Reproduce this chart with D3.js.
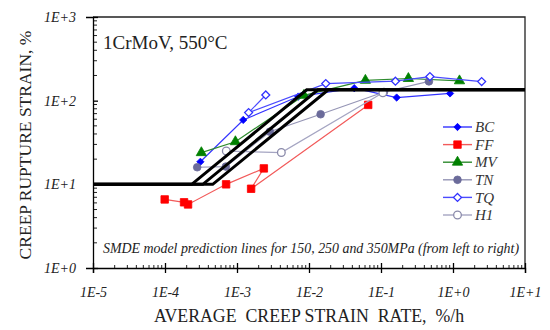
<!DOCTYPE html>
<meta charset="utf-8">
<script src="https://d3js.org/d3.v7.min.js"></script>
<style>
  body { margin: 0; background: #fff; }
  text { font-family: "Liberation Serif", serif; }
</style>
<div id="chart"></div>
<script>
// ---- data ----
const seriesNames = ["BC", "FF", "MV", "TN", "TQ", "H1"];

const bcRate   = [3.1e-4, 1.22e-3, 7.1e-3, 0.0425, 0.165, 0.91];
const bcStrain = [18.6, 58.8, 112, 141, 109, 122];

const ffRate   = [9.9e-5, 1.84e-4, 2.09e-4, 7.06e-4, 2.36e-3, 1.57e-3, 0.0664];
const ffStrain = [6.6, 6.1, 5.75, 10, 15.5, 8.85, 89];

const mvRate   = [3.2e-4, 9.5e-4, 8.5e-3, 0.0607, 0.24, 1.23];
const mvStrain = [23.9, 32.3, 115.6, 175, 184, 172.6];

const tnRate   = [2.8e-4, 7.0e-4, 2.86e-3, 0.0145, 0.11, 0.463];
const tnStrain = [16.0, 16.3, 42.6, 68.8, 127, 170];

const tqRate   = [2.51e-3, 1.45e-3, 0.0171, 0.1585, 0.478, 2.5];
const tqStrain = [117, 72, 160, 171, 194, 169];

const h1Rate   = [7.1e-4, 4.13e-3, 0.106];
const h1Strain = [25.0, 24.0, 124];

// SMDE model lines for 150, 250, 350 MPa
const modelStress = [150, 250, 350];
const modelLowKnee  = [2.35e-4, 3.35e-4, 4.6e-4];   // rate where line leaves 10 %
const modelHighKnee = [9.3e-3, 1.33e-2, 1.85e-2];   // rate where line reaches plateau
const modelLowStrain = 10, modelHighStrain = 135;

const xTicks = [1e-5, 1e-4, 1e-3, 1e-2, 1e-1, 1e0, 1e1];
const xTickLabels = ["1E-5", "1E-4", "1E-3", "1E-2", "1E-1", "1E+0", "1E+1"];
const yTicks = [1, 10, 100, 1000];
const yTickLabels = ["1E+0", "1E+1", "1E+2", "1E+3"];

// ---- styles ----
const style = {
  BC: {color: "#0000ff", line: "#3333ff", shape: d3.symbolDiamond2, size: 34, fill: true},
  FF: {color: "#ff0000", line: "#f25a5a", shape: d3.symbolSquare, size: 56, fill: true},
  MV: {color: "#008000", line: "#2e8b2e", shape: d3.symbolTriangle, size: 46, fill: true},
  TN: {color: "#6b6b9a", line: "#9595b5", shape: d3.symbolCircle, size: 46, fill: true},
  TQ: {color: "#3030ff", line: "#4a4aff", shape: d3.symbolDiamond2, size: 40, fill: false},
  H1: {color: "#8a8aaa", line: "#a5a5c2", shape: d3.symbolCircle, size: 46, fill: false}
};

const data = {
  BC: bcRate.map((r, i) => ({rate: r, strain: bcStrain[i]})),
  FF: ffRate.map((r, i) => ({rate: r, strain: ffStrain[i]})),
  MV: mvRate.map((r, i) => ({rate: r, strain: mvStrain[i]})),
  TN: tnRate.map((r, i) => ({rate: r, strain: tnStrain[i]})),
  TQ: tqRate.map((r, i) => ({rate: r, strain: tqStrain[i]})),
  H1: h1Rate.map((r, i) => ({rate: r, strain: h1Strain[i]}))
};

// ---- layout ----
const W = 550, H = 330;
const margin = {top: 17, right: 25, bottom: 62, left: 93};
const width = W - margin.left - margin.right;
const height = H - margin.top - margin.bottom;

const svg = d3.select("#chart").append("svg")
    .attr("width", W).attr("height", H);
const g = svg.append("g")
    .attr("transform", "translate(" + margin.left + "," + margin.top + ")");

const x = d3.scaleLog().domain([1e-5, 10]).range([0, width]);
const y = d3.scaleLog().domain([1, 1000]).range([height, 0]);

// frame (top + right)
g.append("path")
    .attr("d", "M0,0H" + width + "V" + height)
    .attr("fill", "none").attr("stroke", "#222").attr("stroke-width", 1.3);

// minor ticks
const xMinor = [], yMinor = [];
for (let e = -5; e < 1; e++) for (let m = 2; m < 10; m++) xMinor.push(m * Math.pow(10, e));
for (let e = 0; e < 3; e++) for (let m = 2; m < 10; m++) yMinor.push(m * Math.pow(10, e));

g.append("g").selectAll("line").data(xMinor).enter().append("line")
    .attr("x1", d => x(d)).attr("x2", d => x(d))
    .attr("y1", height).attr("y2", height - 3)
    .attr("stroke", "#222").attr("stroke-width", 1);
g.append("g").selectAll("line").data(yMinor).enter().append("line")
    .attr("y1", d => y(d)).attr("y2", d => y(d))
    .attr("x1", 0).attr("x2", 4)
    .attr("stroke", "#222").attr("stroke-width", 1);

// axes
const xAxis = g.append("g")
    .attr("transform", "translate(0," + height + ")")
    .call(d3.axisBottom(x).tickValues(xTicks)
      .tickFormat((d, i) => xTickLabels[i]).tickSize(5).tickPadding(14));
xAxis.selectAll(".tick line").attr("y1", -5).attr("stroke-width", 1.3);
xAxis.select(".domain").attr("stroke-width", 1.3);
xAxis.selectAll("text").attr("font-size", 14).attr("font-style", "italic")
    .attr("fill", "#222");

const yAxis = g.append("g")
    .call(d3.axisLeft(y).tickValues(yTicks)
      .tickFormat((d, i) => yTickLabels[i]).tickSize(7).tickPadding(10));
yAxis.selectAll(".tick line").attr("x2", 5).attr("stroke-width", 1.3);
yAxis.select(".domain").attr("stroke-width", 1.3);
yAxis.selectAll("text").attr("font-size", 14).attr("font-style", "italic")
    .attr("fill", "#222");

// series
const line = d3.line().x(d => x(d.rate)).y(d => y(d.strain));
seriesNames.forEach(name => {
  const s = style[name];
  g.append("path").datum(data[name])
      .attr("d", line).attr("fill", "none")
      .attr("stroke", s.line).attr("stroke-width", 1.2);
  g.append("g").selectAll("path").data(data[name]).enter().append("path")
      .attr("transform", d => "translate(" + x(d.rate) + "," + y(d.strain) + ")")
      .attr("d", d3.symbol().type(s.shape).size(s.size))
      .attr("fill", s.fill ? s.color : "#fff")
      .attr("stroke", s.color).attr("stroke-width", s.fill ? 0.8 : 1.3);
});

// model lines
modelStress.forEach((st, i) => {
  const pts = [
    {rate: 1e-5, strain: modelLowStrain},
    {rate: modelLowKnee[i], strain: modelLowStrain},
    {rate: modelHighKnee[i], strain: modelHighStrain},
    {rate: 10, strain: modelHighStrain}
  ];
  g.append("path").datum(pts).attr("d", line)
      .attr("fill", "none").attr("stroke", "#000").attr("stroke-width", 3);
});

// legend
const legend = g.append("g").attr("transform", "translate(" + (443 - margin.left) + ",0)");
seriesNames.forEach((name, i) => {
  const s = style[name];
  const ly = 110 + i * 17.6;
  legend.append("line").attr("x1", 0).attr("x2", 29).attr("y1", ly).attr("y2", ly)
      .attr("stroke", s.line).attr("stroke-width", 1.4);
  legend.append("path").attr("transform", "translate(14.5," + ly + ")")
      .attr("d", d3.symbol().type(s.shape).size(s.size))
      .attr("fill", s.fill ? s.color : "#fff")
      .attr("stroke", s.color).attr("stroke-width", s.fill ? 0.8 : 1.3);
  legend.append("text").attr("x", 32).attr("y", ly).attr("dy", "0.35em")
      .attr("font-size", 15).attr("font-style", "italic").attr("fill", "#333")
      .text(name);
});

// annotations
g.append("text").attr("x", 10).attr("y", 32)
    .attr("font-size", 19).attr("fill", "#222").text("1CrMoV, 550°C");
g.append("text").attr("x", 10).attr("y", 236)
    .attr("font-size", 13.9).attr("font-style", "italic").attr("fill", "#222")
    .text("SMDE model prediction lines for 150, 250 and 350MPa (from left to right)");

// axis titles
svg.append("text").attr("x", 309).attr("y", 322).attr("text-anchor", "middle")
    .attr("font-size", 17.8).attr("fill", "#222").style("white-space", "pre")
    .text("AVERAGE  CREEP STRAIN  RATE,  %/h");
svg.append("text").attr("transform", "translate(31,145) rotate(-90)")
    .attr("text-anchor", "middle").attr("font-size", 17.5).attr("fill", "#222")
    .text("CREEP RUPTURE STRAIN, %");
</script>
